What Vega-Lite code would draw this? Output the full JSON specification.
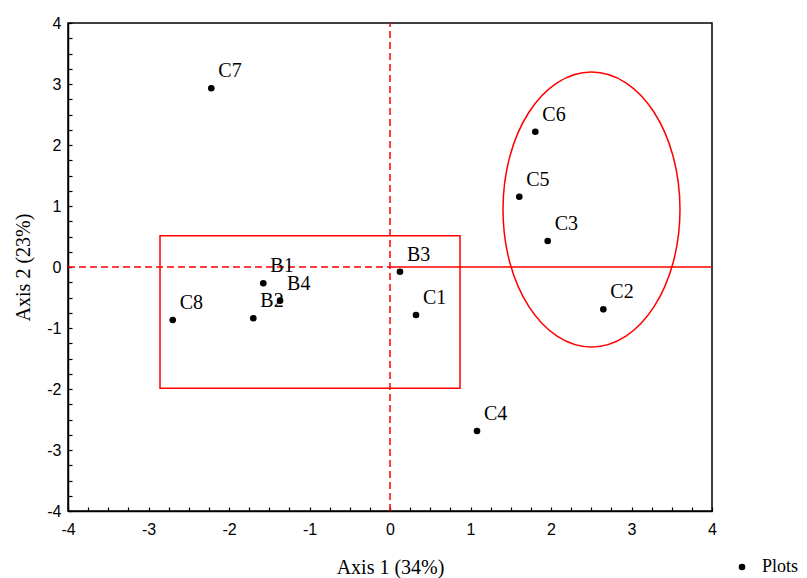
{
  "$schema": "https://vega.github.io/schema/vega-lite/v6.json",
  "width": 644,
  "height": 488,
  "autosize": {"type": "none"},
  "padding": {"left": 68, "top": 23, "right": 95, "bottom": 67},
  "background": "white",
  "config": {
    "view": {"stroke": "black", "strokeWidth": 1.5},
    "axis": {
      "domainColor": "black",
      "domainWidth": 1.5,
      "tickColor": "black",
      "tickWidth": 1.2,
      "tickSize": -4,
      "grid": false,
      "labelFont": "Liberation Sans",
      "labelFontSize": 16,
      "labelColor": "black",
      "labelFlush": false,
      "titleFont": "Liberation Serif",
      "titleFontSize": 20,
      "titleFontWeight": "normal",
      "titleColor": "black",
      "labelOverlap": false
    }
  },
  "datasets": {
    "plots": [
      {"x": -2.22, "y": 2.93, "label": "C7", "series": "Plots"},
      {"x": 1.805, "y": 2.218, "label": "C6", "series": "Plots"},
      {"x": 1.606, "y": 1.152, "label": "C5", "series": "Plots"},
      {"x": 1.959, "y": 0.426, "label": "C3", "series": "Plots"},
      {"x": 2.65, "y": -0.694, "label": "C2", "series": "Plots"},
      {"x": 0.124, "y": -0.077, "label": "B3", "series": "Plots"},
      {"x": 0.323, "y": -0.787, "label": "C1", "series": "Plots"},
      {"x": 1.081, "y": -2.689, "label": "C4", "series": "Plots"},
      {"x": -2.699, "y": -0.869, "label": "C8", "series": "Plots"},
      {"x": -1.698, "y": -0.841, "label": "B2", "series": "Plots"},
      {"x": -1.574, "y": -0.267, "label": "B1", "series": "Plots"},
      {"x": -1.366, "y": -0.552, "label": "B4", "series": "Plots"}
    ]
  },
  "encoding": {
    "x": {
      "field": "x",
      "type": "quantitative",
      "scale": {"domain": [-4, 4], "nice": false, "zero": false},
      "axis": {
        "title": "Axis 1 (34%)",
        "values": [-4, -3.75, -3.5, -3.25, -3, -2.75, -2.5, -2.25, -2, -1.75, -1.5, -1.25, -1, -0.75, -0.5, -0.25, 0, 0.25, 0.5, 0.75, 1, 1.25, 1.5, 1.75, 2, 2.25, 2.5, 2.75, 3, 3.25, 3.5, 3.75, 4],
        "labelExpr": "datum.value % 1 === 0 ? '' + datum.value : ''",
        "labelPadding": 14,
        "titleX": 322,
        "titleY": 62,
        "titleBaseline": "alphabetic",
        "titleAlign": "center"
      }
    },
    "y": {
      "field": "y",
      "type": "quantitative",
      "scale": {"domain": [-4, 4], "nice": false, "zero": false},
      "axis": {
        "title": "Axis 2 (23%)",
        "values": [-4, -3.75, -3.5, -3.25, -3, -2.75, -2.5, -2.25, -2, -1.75, -1.5, -1.25, -1, -0.75, -0.5, -0.25, 0, 0.25, 0.5, 0.75, 1, 1.25, 1.5, 1.75, 2, 2.25, 2.5, 2.75, 3, 3.25, 3.5, 3.75, 4],
        "labelExpr": "datum.value % 1 === 0 ? '' + datum.value : ''",
        "labelPadding": 11,
        "titleX": -45,
        "titleY": 244,
        "titleAngle": -90,
        "titleBaseline": "middle",
        "titleAlign": "center"
      }
    }
  },
  "layer": [
    {
      "data": {"values": [{"x": 0, "y": -4, "y2": 4}]},
      "mark": {"type": "rule", "color": "#ff0000", "strokeWidth": 1.5, "strokeDash": [7, 4]},
      "encoding": {"y2": {"field": "y2"}}
    },
    {
      "data": {"values": [{"x": -4, "x2": 0, "y": 0}]},
      "mark": {"type": "rule", "color": "#ff0000", "strokeWidth": 1.5, "strokeDash": [7, 4]},
      "encoding": {"x2": {"field": "x2"}}
    },
    {
      "data": {"values": [{"x": 0, "x2": 4, "y": 0}]},
      "mark": {"type": "rule", "color": "#ff0000", "strokeWidth": 1.5},
      "encoding": {"x2": {"field": "x2"}}
    },
    {
      "data": {"values": [{"x": -2.857, "x2": 0.87, "y": 0.513, "y2": -1.989}]},
      "mark": {"type": "rect", "fill": null, "fillOpacity": 0, "stroke": "#ff0000", "strokeWidth": 1.5},
      "encoding": {"x2": {"field": "x2"}, "y2": {"field": "y2"}}
    },
    {
      "data": {"values": [{"x": 2.503, "y": 0.943}]},
      "mark": {
        "type": "point",
        "shape": "M -0.6436,0 A 0.6436,1 0 1,1 0.6436,0 A 0.6436,1 0 1,1 -0.6436,0 Z",
        "size": 75625,
        "filled": false,
        "stroke": "#ff0000",
        "strokeWidth": 1.5,
        "opacity": 1
      }
    },
    {
      "data": {"name": "plots"},
      "mark": {"type": "point", "filled": true, "size": 44, "opacity": 1},
      "encoding": {
        "color": {
          "field": "series",
          "type": "nominal",
          "scale": {"range": ["black"]},
          "legend": {
            "orient": "none",
            "legendX": 665,
            "legendY": 535,
            "title": null,
            "padding": 0,
            "labelFont": "Liberation Serif",
            "labelFontSize": 18,
            "labelColor": "black",
            "labelOffset": 11,
            "symbolType": "circle",
            "symbolSize": 44
          }
        }
      }
    },
    {
      "data": {"name": "plots"},
      "mark": {"type": "text", "align": "left", "baseline": "alphabetic", "dx": 7, "dy": -11, "font": "Liberation Serif", "fontSize": 20, "color": "black"},
      "encoding": {"text": {"field": "label"}}
    }
  ]
}
